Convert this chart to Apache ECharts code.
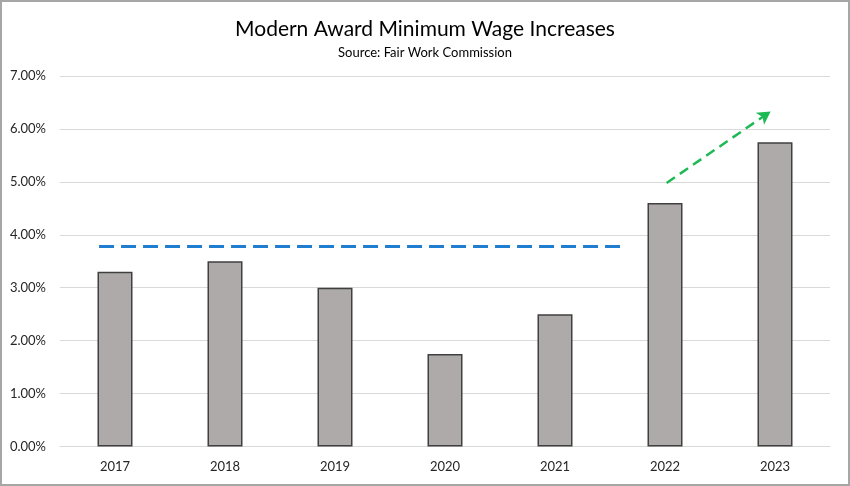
<!DOCTYPE html>
<html><head><meta charset="utf-8">
<script src="https://cdn.jsdelivr.net/npm/echarts@6/dist/echarts.min.js"></script>
<style>html,body{margin:0;padding:0;background:#fff}
#c{position:absolute;left:0;top:0;width:846px;height:482px;border:2px solid #a6a6a6;}
</style></head><body><div id="c"></div>
<script>
const years = ['2017','2018','2019','2020','2021','2022','2023'];
const increases = [3.3, 3.5, 3.0, 1.75, 2.5, 4.6, 5.75];
const avgLine = [[-0.145, 3.78], [4.65, 3.78]];
const trendArrow = [[5.015, 4.98], [5.96, 6.33]];
const yTicks = {min: 0, max: 7, interval: 1};

const chart = echarts.init(document.getElementById('c'));
const font = 'Lato, "Open Sans", sans-serif';
chart.setOption({
  animation: false,
  title: {
    text: 'Modern Award Minimum Wage Increases',
    subtext: 'Source: Fair Work Commission',
    left: 'center', top: 12, itemGap: 6,
    textStyle: {fontFamily: font, fontSize: 21, fontWeight: 'normal', color: '#000'},
    subtextStyle: {fontFamily: font, fontSize: 13, color: '#000'}
  },
  grid: {left: 58, right: 18, top: 74, bottom: 37.5},
  xAxis: [{
    type: 'category', data: years,
    axisLine: {show: true, lineStyle: {color: '#d9d9d9'}},
    axisTick: {show: false},
    axisLabel: {fontFamily: font, fontSize: 13, color: '#262626', margin: 14}
  }, {
    type: 'value', min: -0.5, max: 6.5, show: false
  }],
  yAxis: {
    type: 'value', min: yTicks.min, max: yTicks.max, interval: yTicks.interval,
    axisLine: {show: false}, axisTick: {show: false},
    splitLine: {lineStyle: {color: '#d9d9d9', width: 1}},
    axisLabel: {fontFamily: font, fontSize: 13, color: '#262626', margin: 14,
      formatter: v => v.toFixed(2) + '%'}
  },
  series: [{
    type: 'bar', data: increases, barWidth: 35,
    itemStyle: {color: '#aeaaaa', borderColor: '#404040', borderWidth: 1.5}
  }, {
    type: 'line', xAxisIndex: 1, data: avgLine, symbol: 'none',
    lineStyle: {color: '#1f7ed0', width: 3, type: [15, 7]}
  }, {
    type: 'line', xAxisIndex: 1, data: [], symbol: 'none',
    markLine: {
      silent: true, symbol: ['none', 'arrow'], symbolSize: [11, 13],
      label: {show: false},
      lineStyle: {color: '#1db954', width: 2.5, type: [10, 6]},
      data: [[{coord: trendArrow[0]}, {coord: trendArrow[1]}]]
    }
  }]
});
</script></body></html>
